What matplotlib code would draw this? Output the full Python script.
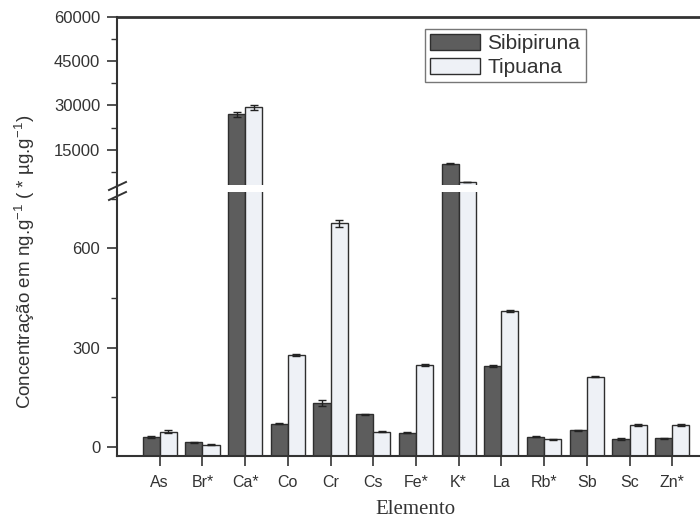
import matplotlib
matplotlib.use("Agg")
import matplotlib.pyplot as plt
from matplotlib.lines import Line2D
import numpy as np

elements = ["As", "Br*", "Ca*", "Co", "Cr", "Cs", "Fe*", "K*", "La", "Rb*", "Sb", "Sc", "Zn*"]
sibipiruna = [31, 14, 27000, 71, 133, 99, 43, 10200, 245, 31, 51, 24, 26]
tipuana = [46, 7, 29300, 278, 675, 46, 248, 4000, 411, 23, 213, 67, 67]
sib_err = [3, 2, 800, 2, 10, 2, 2, 150, 3, 2, 2, 2, 2]
tip_err = [5, 2, 800, 4, 10, 2, 2, 100, 4, 2, 3, 2, 2]

upper_ticks = [15000, 30000, 45000, 60000]
lower_ticks = [0, 300, 600]

W, H = 700, 519
plt.rcParams['font.family'] = ['Liberation Sans', 'DejaVu Sans']
plt.rcParams['mathtext.fontset'] = 'custom'
plt.rcParams['mathtext.rm'] = 'Liberation Sans'
plt.rcParams['mathtext.it'] = 'Liberation Sans:italic'
plt.rcParams['mathtext.bf'] = 'Liberation Sans:bold'
fig = plt.figure(figsize=(7.0, 5.19), dpi=100)

left = 117 / W
right = 1.0
ax_up = fig.add_axes([left, 1 - 185 / H, right - left, (185 - 17) / H])
ax_lo = fig.add_axes([left, 1 - 456 / H, right - left, (456 - 192) / H])

x = np.arange(len(elements))
bw = 0.4
dark = "#5d5d5d"
light = "#eef1f6"
edge = "#2e2e2e"
base = -27

for ax in (ax_up, ax_lo):
    ax.bar(x - bw / 2, np.array(sibipiruna) - base, bw, bottom=base, color=dark,
           edgecolor=edge, linewidth=1.0, label="Sibipiruna", zorder=2)
    ax.bar(x + bw / 2, np.array(tipuana) - base, bw, bottom=base, color=light,
           edgecolor=edge, linewidth=1.0, label="Tipuana", zorder=2)
    ax.errorbar(x - bw / 2, sibipiruna, yerr=sib_err, fmt="none", ecolor="#222",
                elinewidth=1, capsize=3, capthick=1, zorder=3)
    ax.errorbar(x + bw / 2, tipuana, yerr=tip_err, fmt="none", ecolor="#222",
                elinewidth=1, capsize=3, capthick=1, zorder=3)
    ax.set_xlim(-1.0, 12.65)
    ax.spines["right"].set_visible(False)
    ax.spines["left"].set_linewidth(1.5)
    ax.spines["left"].set_color("#333")
    ax.tick_params(axis="y", direction="out", length=7, width=1.2, labelsize=12,
                   colors="#333", pad=5)
    ax.tick_params(axis="y", which="minor", direction="out", length=4, width=1.0, colors="#333")

ax_up.set_ylim(3000, 60000)
ax_up.set_yticks(upper_ticks)
ax_up.set_yticks([7500, 22500, 37500, 52500], minor=True)
ax_up.spines["bottom"].set_visible(False)
ax_up.spines["top"].set_linewidth(2)
ax_up.spines["top"].set_color("#333")
ax_up.set_xticks([])

ax_lo.set_ylim(base, 770)
ax_lo.set_yticks(lower_ticks)
ax_lo.set_yticks([150, 450, 750], minor=True)
ax_lo.spines["top"].set_visible(False)
ax_lo.spines["bottom"].set_linewidth(1.5)
ax_lo.spines["bottom"].set_color("#333")
ax_lo.set_xticks(x)
ax_lo.set_xticklabels(elements)
ax_lo.tick_params(axis="x", direction="out", length=7, width=1.2, labelsize=11.5,
                  colors="#333", pad=7)

# axis continuation through gap + break marks
fig.add_artist(Line2D([left, left], [1 - 185 / H, 1 - 192 / H], color="#333", lw=1.5))
for yy in (186, 196):
    fig.add_artist(Line2D([109 / W, 126 / W], [1 - (yy + 4) / H, 1 - (yy - 4) / H],
                          color="#333", lw=1.4))

fig.text(25 / W, 1 - 262 / H, "Concentração em ng.g$^{-1}$ ( * µg.g$^{-1}$)",
         rotation=90, ha="center", va="center", fontsize=13.5, color="#333")
fig.text(415 / W, 1 - 510 / H, "Elemento", ha="center", va="center",
         fontsize=15, color="#333", family="Liberation Serif")

leg = ax_up.legend(loc="upper left", bbox_to_anchor=(425 / W, 1 - 29 / H),
                   bbox_transform=fig.transFigure, borderaxespad=0, fontsize=15,
                   frameon=True, fancybox=False, edgecolor="#555",
                   handlelength=2.4, handleheight=0.8, handletextpad=0.35,
                   labelspacing=0.2, borderpad=0.25, labelcolor="#333")
leg.get_frame().set_linewidth(1.0)

fig.savefig("out.png", dpi=100)
